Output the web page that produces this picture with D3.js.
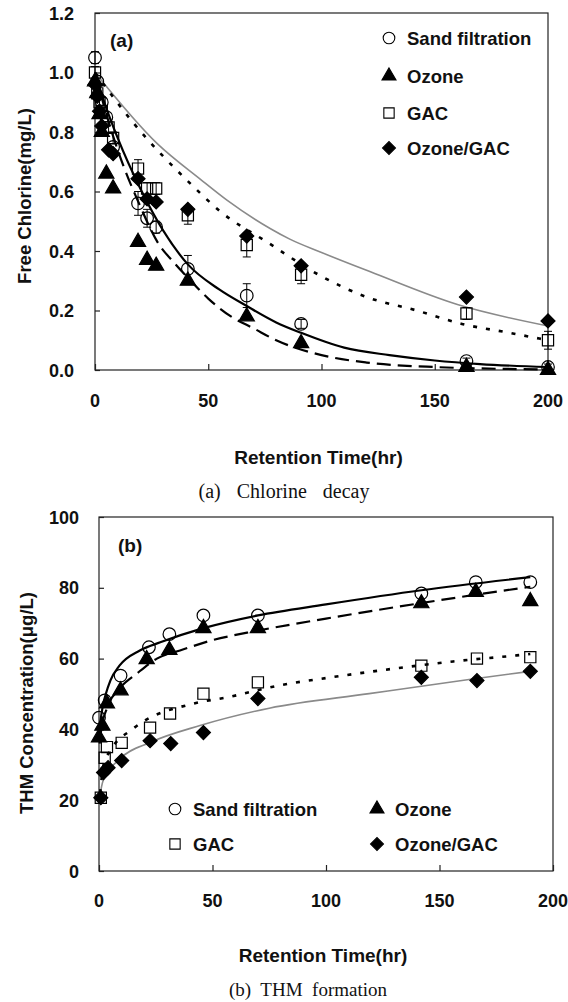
<!DOCTYPE html>
<html>
<head>
<meta charset="utf-8">
<script src="https://cdn.jsdelivr.net/npm/d3@7/dist/d3.min.js"></script>
<style>
body{margin:0;background:#fff;}
svg text{font-family:"Liberation Sans",Arial,sans-serif;font-weight:bold;fill:#111;}
svg text.cap{font-family:"Liberation Serif","Times New Roman",serif;font-weight:normal;}
</style>
</head>
<body>
<svg id="chart" width="568" height="1002"></svg>
<script>
// ---- panel (a) chlorine decay, measured points
var aSandT=[0,1,3,5,8,19,23,27,41,67,91,164,200];
var aSand=[1.05,0.97,0.90,0.85,0.75,0.56,0.51,0.48,0.34,0.25,0.155,0.03,0.01];
var aSandErr=[0.02,0,0,0,0,0.04,0.03,0.02,0.045,0.04,0.015,0.01,0.01];
var aOzoneT=[0,1,2,3,5,8,19,23,27,41,67,91,164,200];
var aOzone=[0.97,0.93,0.86,0.80,0.66,0.61,0.43,0.37,0.35,0.30,0.18,0.09,0.01,0.0];
var aGacT=[0,1,2,3,6,8,19,23,27,41,67,91,164,200];
var aGac=[1.00,0.93,0.90,0.87,0.815,0.78,0.677,0.61,0.61,0.52,0.42,0.32,0.19,0.10];
var aGacErr=[0.02,0.02,0.02,0.02,0.02,0.02,0.03,0.02,0.02,0.03,0.04,0.03,0.02,0.03];
var aOgT=[0,1,2,3,6,8,19,23,27,41,67,91,164,200];
var aOg=[0.96,0.92,0.87,0.82,0.74,0.727,0.643,0.575,0.565,0.54,0.45,0.35,0.245,0.165];

// panel (a) fitted curves
var aSandFitT=[0,5,10,20,30,41,55,67,80,91,110,130,150,170,200];
var aSandFit=[1.0,0.88,0.78,0.61,0.47,0.355,0.27,0.215,0.16,0.125,0.075,0.05,0.032,0.02,0.01];
var aOzoneFitT=[0,5,10,20,27.6,35,41,50,60,70,80,100,120,150,200];
var aOzoneFit=[1.0,0.86,0.74,0.55,0.43,0.36,0.31,0.24,0.18,0.14,0.10,0.05,0.025,0.01,0.002];
var aGacFitT=[0,17,43,55,76,100,120,142,162,183,200];
var aGacFit=[1.0,0.83,0.62,0.535,0.43,0.315,0.245,0.20,0.155,0.125,0.10];
var aOgFitT=[0,27.6,46.7,58.4,77.5,86,100,121.6,160,200];
var aOgFit=[1.0,0.76,0.64,0.57,0.475,0.44,0.395,0.33,0.22,0.148];

// ---- panel (b) THM formation, measured points
var bSandT=[0,2.5,9.5,22,31,46,70,142,166,190];
var bSand=[43.3,48.2,55.2,63.2,66.9,72.2,72.2,78.4,81.6,81.6];
var bOzoneT=[0,1.5,3.5,9.5,21,31,46,70,142,166,190];
var bOzone=[37.7,41,47.3,51,59.8,62.4,68.6,68.6,75.6,78.8,76.2];
var bGacT=[0.8,2.5,3.5,10,22.5,31.3,46,70,142,166.5,190];
var bGac=[20.7,32,35,36.2,40.5,44.5,50.1,53.3,58,60,60.4];
var bOgT=[0.8,2,4,10,22.5,31.6,46,70,142,166.5,190];
var bOg=[20.7,27.8,29.2,31.2,36.8,36,39.1,48.7,54.7,53.8,56.4];

// panel (b) fitted curves
var bSandFitT=[0.2,1,2,3,5,9,18,27,46,70,100,142,190];
var bSandFit=[40,44,47.5,50,53.8,58,62.3,64.6,68.6,72.2,75.3,79.3,83.0];
var bOzoneFitT=[0.3,1,3.5,9,16.7,25.5,35.7,50,70,100,141,190];
var bOzoneFit=[36,40,46,51.5,55.8,60,62.3,65.2,67.9,71.3,75.6,80.3];
var bGacFitT=[0.5,2,5,15,41.6,56,80,100,134,156,184,190];
var bGacFit=[22,30,34,40.2,47.3,49,52.5,54.5,57.5,59.2,60.9,61.3];
var bOgFitT=[0.3,1.8,9.3,22.5,44.5,75,119,163,190];
var bOgFit=[21,25.5,31.7,36.3,41.1,46,50.1,54.1,56.4];

var seriesNames=["Sand filtration","Ozone","GAC","Ozone/GAC"];
var xTicks=[0,50,100,150,200];
var aYTicks=[0,0.2,0.4,0.6,0.8,1.0,1.2];
var bYTicks=[0,20,40,60,80,100];

var svg=d3.select("#chart");
var zip=function(t,v,e){return t.map(function(d,i){return {t:d,v:v[i],e:e?e[i]:0};});};

// diamonds are squares turned 45 degrees
var markerType={
  "Sand filtration":{sym:d3.symbolCircle,size:125,fill:"#fff",rot:0},
  "Ozone":{sym:d3.symbolTriangle,size:100,fill:"#000",rot:0},
  "GAC":{sym:d3.symbolSquare,size:125,fill:"#fff",rot:0},
  "Ozone/GAC":{sym:d3.symbolSquare,size:98,fill:"#000",rot:45}
};
var lineStyle={
  "Sand filtration":{stroke:"#000",w:2.2,dash:null},
  "Ozone":{stroke:"#000",w:2.2,dash:"14,7"},
  "GAC":{stroke:"#000",w:2.6,dash:"4,9"},
  "Ozone/GAC":{stroke:"#8a8a8a",w:1.6,dash:null}
};

function drawPanel(p){
  var g=svg.append("g");
  var x=d3.scaleLinear().domain([0,200]).range([p.left,p.right]);
  var y=d3.scaleLinear().domain(p.yDomain).range([p.bottom,p.top]);

  // frame
  g.append("rect").attr("x",p.left).attr("y",p.top)
    .attr("width",p.right-p.left).attr("height",p.bottom-p.top)
    .attr("fill","none").attr("stroke","#222").attr("stroke-width",1.2);

  // axes, ticks pointing inward
  var xa=g.append("g").attr("transform","translate(0,"+p.bottom+")")
    .call(d3.axisTop(x).tickValues(xTicks).tickSize(6).tickFormat(""));
  xa.select(".domain").remove();
  var ya=g.append("g").attr("transform","translate("+p.left+",0)")
    .call(d3.axisRight(y).tickValues(p.yTicks).tickSize(5).tickFormat(""));
  ya.select(".domain").remove();
  g.selectAll(".tick line").attr("stroke","#222").attr("stroke-width",1.2);

  g.selectAll(".xl").data(xTicks).enter().append("text")
    .attr("x",function(d){return x(d);}).attr("y",p.bottom+p.xLabelDy)
    .attr("text-anchor","middle").style("font-size","18px").text(function(d){return d;});
  g.selectAll(".yl").data(p.yTicks).enter().append("text")
    .attr("x",p.left-p.yLabelDx).attr("y",function(d){return y(d)+6.5;})
    .attr("text-anchor","end").style("font-size","18px").text(p.yFormat);

  g.append("text").attr("x",(p.left+p.right)/2-3).attr("y",p.xTitleY)
    .attr("text-anchor","middle").style("font-size","19px").text("Retention Time(hr)");
  g.append("text").attr("transform","translate("+p.yTitleX+","+p.yTitleY+") rotate(-90)")
    .attr("text-anchor","middle").style("font-size","18.5px").text(p.yTitle);
  g.append("text").attr("class","cap").attr("x",p.capX).attr("y",p.capY)
    .attr("text-anchor","middle").style("font-size",p.capSize).style("word-spacing",p.capWs)
    .attr("xml:space","preserve").text(p.caption);
  g.append("text").attr("x",p.left+p.tagDx).attr("y",p.top+p.tagDy)
    .style("font-size","19px").text(p.tag);

  // fitted lines
  var line=d3.line().x(function(d){return x(d.t);}).y(function(d){return y(d.v);}).curve(d3.curveMonotoneX);
  p.fits.forEach(function(f){
    var s=lineStyle[f.name];
    g.append("path").datum(zip(f.t,f.v)).attr("d",line)
      .attr("fill","none").attr("stroke",s.stroke).attr("stroke-width",s.w)
      .attr("stroke-dasharray",s.dash);
  });

  // points with error bars
  p.points.forEach(function(s){
    var m=markerType[s.name];
    var pts=zip(s.t,s.v,s.e);
    var eb=g.append("g");
    pts.filter(function(d){return d.e>0;}).forEach(function(d){
      var cx=x(d.t),y1=y(d.v+d.e),y2=y(d.v-d.e);
      eb.append("line").attr("x1",cx).attr("x2",cx).attr("y1",y1).attr("y2",y2).attr("stroke","#000").attr("stroke-width",1);
      eb.append("line").attr("x1",cx-4).attr("x2",cx+4).attr("y1",y1).attr("y2",y1).attr("stroke","#000").attr("stroke-width",1);
      eb.append("line").attr("x1",cx-4).attr("x2",cx+4).attr("y1",y2).attr("y2",y2).attr("stroke","#000").attr("stroke-width",1);
    });
    g.selectAll(null).data(pts).enter().append("path")
      .attr("d",d3.symbol().type(m.sym).size(m.size))
      .attr("transform",function(d){return "translate("+x(d.t)+","+y(d.v)+") rotate("+m.rot+")";})
      .attr("fill",m.fill==="#fff"?"none":m.fill).attr("stroke","#000").attr("stroke-width",1.2);
  });

  // legend
  p.legend.forEach(function(l){
    var m=markerType[l.name];
    g.append("path").attr("d",d3.symbol().type(m.sym).size(m.size*0.85))
      .attr("transform","translate("+l.x+","+l.y+") rotate("+m.rot+")")
      .attr("fill",m.fill).attr("stroke","#000").attr("stroke-width",1.1);
    g.append("text").attr("x",l.x+18).attr("y",l.y+6.5).style("font-size","18.5px").text(l.name);
  });
}

drawPanel({
  left:95,right:548,top:13,bottom:370,yDomain:[0,1.2],yTicks:aYTicks,
  yFormat:d3.format(".1f"),xLabelDy:37,yLabelDx:21,xTitleY:464,yTitleX:31,yTitleY:196,
  capX:284,capY:498,capSize:"20px",capWs:"3px",
  yTitle:"Free Chlorine(mg/L)",caption:"(a)  Chlorine  decay",tag:"(a)",tagDx:15,tagDy:34,
  fits:[
    {name:"Ozone/GAC",t:aOgFitT,v:aOgFit},
    {name:"GAC",t:aGacFitT,v:aGacFit},
    {name:"Ozone",t:aOzoneFitT,v:aOzoneFit},
    {name:"Sand filtration",t:aSandFitT,v:aSandFit}
  ],
  points:[
    {name:"GAC",t:aGacT,v:aGac,e:aGacErr},
    {name:"Ozone/GAC",t:aOgT,v:aOg},
    {name:"Ozone",t:aOzoneT,v:aOzone},
    {name:"Sand filtration",t:aSandT,v:aSand,e:aSandErr}
  ],
  legend:[
    {name:seriesNames[0],x:389,y:38},
    {name:seriesNames[1],x:389,y:76},
    {name:seriesNames[2],x:389,y:113},
    {name:seriesNames[3],x:389,y:148}
  ]
});

drawPanel({
  left:99,right:553,top:517,bottom:871,yDomain:[0,100],yTicks:bYTicks,
  yFormat:d3.format("d"),xLabelDy:36,yLabelDx:20,xTitleY:962,yTitleX:33,yTitleY:703,
  capX:308,capY:996,capSize:"19px",capWs:"0px",
  yTitle:"THM Concentration(μg/L)",caption:"(b)  THM  formation",tag:"(b)",tagDx:19,tagDy:35,
  fits:[
    {name:"Ozone/GAC",t:bOgFitT,v:bOgFit},
    {name:"GAC",t:bGacFitT,v:bGacFit},
    {name:"Ozone",t:bOzoneFitT,v:bOzoneFit},
    {name:"Sand filtration",t:bSandFitT,v:bSandFit}
  ],
  points:[
    {name:"GAC",t:bGacT,v:bGac},
    {name:"Ozone/GAC",t:bOgT,v:bOg},
    {name:"Ozone",t:bOzoneT,v:bOzone},
    {name:"Sand filtration",t:bSandT,v:bSand}
  ],
  legend:[
    {name:seriesNames[0],x:175,y:809},
    {name:seriesNames[1],x:377,y:809},
    {name:seriesNames[2],x:175,y:844},
    {name:seriesNames[3],x:377,y:844}
  ]
});
</script>
</body>
</html>
